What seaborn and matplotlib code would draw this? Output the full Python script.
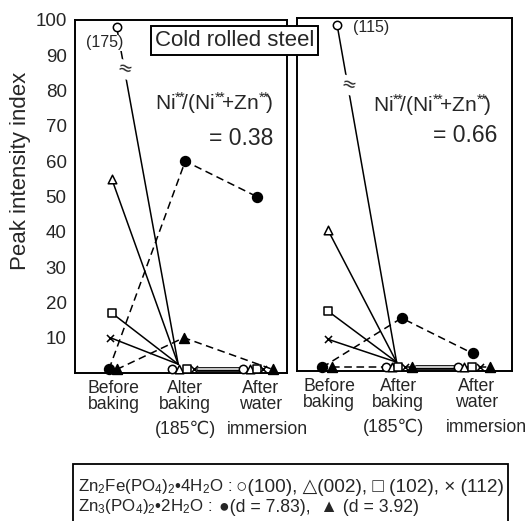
import matplotlib
matplotlib.use("Agg")
import matplotlib.pyplot as plt
import matplotlib.transforms as mtransforms
from matplotlib.patches import Rectangle
import seaborn as sns

sns.set_style("white")
plt.rcParams["font.family"] = ["Liberation Sans", "DejaVu Sans"]
plt.rcParams["mathtext.fontset"] = "custom"
plt.rcParams["mathtext.rm"] = "Liberation Sans"
plt.rcParams["mathtext.it"] = "Liberation Sans"
plt.rcParams["mathtext.default"] = "regular"

# ---------------- data ----------------
left_categories = ["Before\nbaking", "Alter\nbaking", "After\nwater"]
right_categories = ["Before\nbaking", "After\nbaking", "After\nwater"]
third_row = ["(185\u2103)", "immersion"]

# Zn2Fe(PO4)2.4H2O peaks (open symbols)
left_o100 = [175, 1, 1]
left_o002 = [55, 1, 1]
left_o102 = [17, 1, 1]
left_o112 = [10, 1, 1]
# Zn3(PO4)2.2H2O peaks (filled symbols)
left_d783 = [1, 60, 50]
left_d392 = [1, 10, 1]

right_o100 = [115, 1, 1]
right_o002 = [40, 1, 1]
right_o102 = [17, 1, 1]
right_o112 = [9, 1, 1]
right_d783 = [1, 15, 5]
right_d392 = [1, 1, 1]

y_ticks = [10, 20, 30, 40, 50, 60, 70, 80, 90, 100]
ratios = ["= 0.38", "= 0.66"]

# ---------------- layout ----------------
BREAK_SHOW = 98       # where off-scale values are drawn
CONV_Y = 2.5          # where solid lines meet near the baseline

left_pos = dict(o100=[0.59, 1.37, 2.38], o002=[0.52, 1.47, 2.48],
                o102=[0.52, 1.58, 2.57], o112=[0.50, 1.68, 2.66],
                d783=[0.48, 1.56, 2.57], d392=[0.59, 1.54, 2.80],
                conv=1.46, ticks=[0.55, 1.56, 2.62], third=[1.57, 2.72],
                brk=86, lab=(0.42, 93.5), double=(1.74, 2.32))
right_pos = dict(o100=[0.56, 1.24, 2.25], o002=[0.43, 1.32, 2.33],
                 o102=[0.43, 1.41, 2.44], o112=[0.43, 1.51, 2.55],
                 d783=[0.35, 1.46, 2.45], d392=[0.49, 1.60, 2.69],
                 conv=1.39, ticks=[0.45, 1.41, 2.50], third=[1.34, 2.64],
                 brk=81, lab=(1.04, 97.4), double=(1.66, 2.20))

W, H = 530, 521
fig = plt.figure(figsize=(W / 100, H / 100), dpi=100)
axL = fig.add_axes([75 / W, 1 - 373 / H, 212 / W, 353 / H])
axR = fig.add_axes([297 / W, 1 - 371 / H, 215 / W, 353 / H])

LW = 1.1


def line(ax, xs, ys, ls="-", lw=LW, color="black", z=2):
    sns.lineplot(x=xs, y=ys, ax=ax, color=color, linewidth=lw, sort=False,
                 estimator=None, zorder=z)
    if ls != "-":
        ax.lines[-1].set_linestyle((0, (5, 3)))


def pts(ax, xs, ys, marker, filled, s):
    kw = dict(color="black", edgecolor="black") if filled else dict(color="white", edgecolor="black")
    if marker == "x":
        kw = dict(color="black")
    sns.scatterplot(x=xs, y=ys, ax=ax, marker=marker, s=s, linewidth=1.1,
                    zorder=6, clip_on=False, **kw)


def panel(ax, o100, o002, o102, o112, d783, d392, P, cats, label_text):
    ax.set_xlim(0, 3)
    ax.set_ylim(0, 100)
    show100 = [min(v, BREAK_SHOW) for v in o100]
    for key, vals in (("o100", show100), ("o002", o002), ("o102", o102), ("o112", o112)):
        line(ax, [P[key][0], P["conv"]], [vals[0], CONV_Y])
    x0, x1 = P["double"]
    line(ax, [x0, x1], [o100[1], o100[2]], lw=3.4, z=3)
    line(ax, [x0, x1], [o100[1], o100[2]], lw=1.1, color="white", z=3)
    line(ax, P["d783"], d783, ls="--")
    line(ax, P["d392"], d392, ls="--")
    pts(ax, P["o100"], show100, "o", False, 36)
    pts(ax, P["o002"], o002, "^", False, 38)
    pts(ax, P["o102"], o102, "s", False, 32)
    pts(ax, P["o112"], o112, "x", True, 26)
    pts(ax, P["d783"], d783, "o", True, 50)
    pts(ax, P["d392"], d392, "^", True, 50)
    t = (BREAK_SHOW - P["brk"]) / (BREAK_SHOW - CONV_Y)
    bx = P["o100"][0] + t * (P["conv"] - P["o100"][0])
    ax.text(bx, P["brk"], "\u2248", ha="center", va="center", fontsize=13,
            family="DejaVu Sans", zorder=7, rotation=-15,
            bbox=dict(facecolor="white", edgecolor="none", pad=0.2))
    ax.text(P["lab"][0], P["lab"][1], label_text, ha="center", va="center",
            fontsize=11.5, zorder=7,
            bbox=dict(facecolor="white", edgecolor="none", pad=0.3))
    ax.set_xticks(P["ticks"])
    ax.set_xticklabels(cats, fontsize=12.7, linespacing=0.92)
    ax.tick_params(axis="x", length=0, pad=5)
    trans = mtransforms.blended_transform_factory(ax.transData, ax.transAxes)
    for xx, txt in zip(P["third"], third_row):
        ax.text(xx, -0.16, txt, transform=trans, ha="center", va="center", fontsize=12.7)
    for sp in ax.spines.values():
        sp.set_visible(True)
        sp.set_color("black")
        sp.set_linewidth(1.4)
    ax.set_xlabel("")
    ax.set_ylabel("")


panel(axL, left_o100, left_o002, left_o102, left_o112, left_d783, left_d392,
      left_pos, left_categories, "(175)")
panel(axR, right_o100, right_o002, right_o102, right_o112, right_d783, right_d392,
      right_pos, right_categories, "(115)")

axL.set_yticks(y_ticks)
axL.set_yticklabels([str(v) for v in y_ticks], fontsize=13.5)
axL.tick_params(axis="y", direction="in", length=3, width=1, pad=6)
axR.set_yticks([])

# Ni ratio annotations
nitxt = r"Ni$^{*\!\!*}\!\!$/(Ni$^{*\!\!*}\!\!$+Zn$^{*\!\!*}\!\!$)"
axL.text(0.935, 0.765, nitxt, transform=axL.transAxes, ha="right", va="center", fontsize=15)
axL.text(0.935, 0.665, ratios[0], transform=axL.transAxes, ha="right", va="center", fontsize=16.5)
axR.text(0.90, 0.753, nitxt, transform=axR.transAxes, ha="right", va="center", fontsize=15)
axR.text(0.93, 0.668, ratios[1], transform=axR.transAxes, ha="right", va="center", fontsize=16.5)

fig.text(21 / W, 1 - 171 / H, "Peak intensity index", rotation=90,
         ha="center", va="center", fontsize=16)

fig.text(234.5 / W, 1 - 40.5 / H, "Cold rolled steel", ha="center", va="center",
         fontsize=16, zorder=10,
         bbox=dict(facecolor="white", edgecolor="black", linewidth=1.4, pad=2.5))

# legend box
fig.patches.append(Rectangle((73 / W, -0.05), (508 - 73) / W, 0.05 + (1 - 464 / H),
                             transform=fig.transFigure, facecolor="white",
                             edgecolor="black", linewidth=1.3, clip_on=False))
fig.text(78 / W, 1 - 487 / H, "Zn$_2$Fe(PO$_4$)$_2$\u20224H$_2$O :",
         ha="left", va="center", fontsize=12.2)
fig.text(236 / W, 1 - 487 / H, "\u25cb(100), \u25b3(002), \u25a1 (102), \u00d7 (112)",
         ha="left", va="center", fontsize=13.7)
fig.text(78 / W, 1 - 507 / H, "Zn$_3$(PO$_4$)$_2$\u20222H$_2$O :",
         ha="left", va="center", fontsize=12.2)
fig.text(219 / W, 1 - 507 / H, "\u25cf(d = 7.83),  \u25b2 (d = 3.92)",
         ha="left", va="center", fontsize=12.7)

fig.savefig("out.png", dpi=100)
